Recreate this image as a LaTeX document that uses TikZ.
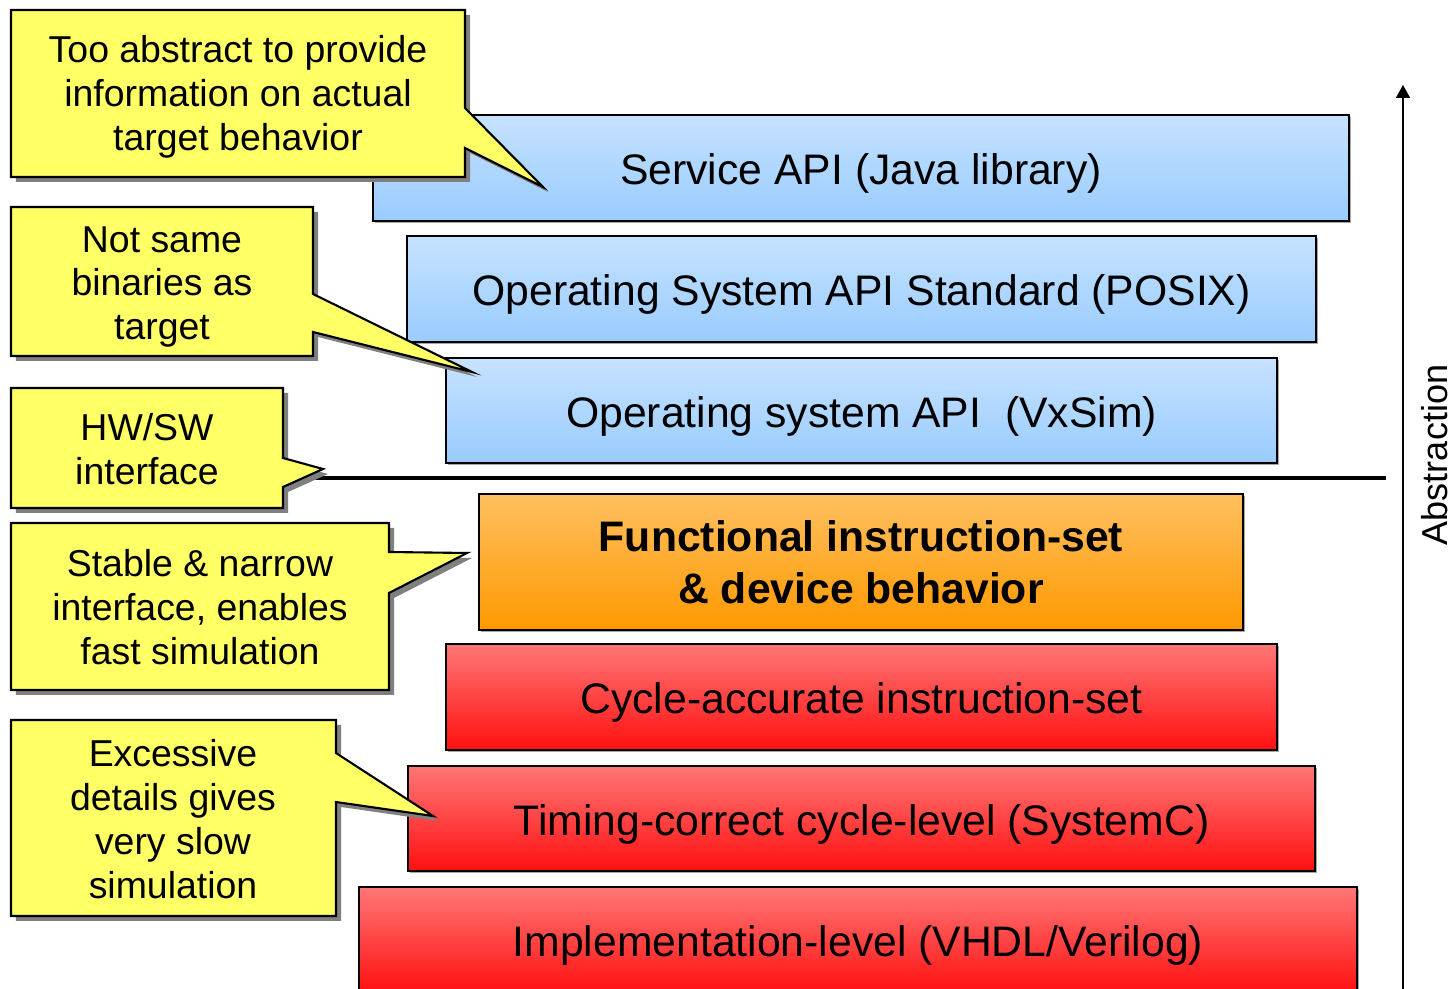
\documentclass[tikz,border=0pt]{standalone}
\usepackage{fontspec}
\setmainfont{Liberation Sans}
\usetikzlibrary{arrows.meta, shadows}

\definecolor{blueTop}{HTML}{C6E2FF}
\definecolor{blueBot}{HTML}{99CCFF}
\definecolor{orangeTop}{HTML}{FFC060}
\definecolor{orangeBot}{HTML}{FF9900}
\definecolor{redTop}{HTML}{FF7777}
\definecolor{redBot}{HTML}{FF1010}
\definecolor{noteYellow}{HTML}{FFFF66}

\tikzset{
  layer/.style={draw, line width=1pt, minimum height=2.12cm, inner sep=0pt,
    font=\fontsize{24.3}{28}\selectfont,
    drop shadow={shadow xshift=0.04cm, shadow yshift=-0.04cm, fill=black!35, opacity=1}},
  oneline/.style={text height=22pt, text depth=3pt},
  swlayer/.style={layer, oneline, top color=blueTop, bottom color=blueBot},
  fnlayer/.style={layer, top color=orangeTop, bottom color=orangeBot, align=center,
    font=\fontsize{24.3}{29.5}\selectfont\bfseries},
  hwlayer/.style={layer, oneline, top color=redTop, bottom color=redBot},
  note/.style={draw, line width=1.2pt, fill=noteYellow, line join=miter,
    drop shadow={shadow xshift=0.1cm, shadow yshift=-0.1cm, fill=black!50, opacity=1}},
  notetext/.style={align=center, inner sep=0pt, font=\fontsize{21.3}{25}\selectfont}
}

\begin{document}
\begin{tikzpicture}[x=0.02cm, y=-0.02cm, line cap=butt]
  \useasboundingbox (0,0) rectangle (1455,989);

  % abstraction layers, top to bottom
  \node[swlayer, minimum width=19.52cm] (svc) at (861,168) {Service API (Java library)};
  \node[swlayer, minimum width=18.18cm] (posix) at (861.5,289) {Operating System API Standard (POSIX)};
  \node[swlayer, minimum width=16.62cm, minimum height=2.1cm] (vxsim) at (861.5,410.5) {Operating system API~ (VxSim)};
  \node[fnlayer, minimum width=15.28cm, minimum height=2.72cm] (func) at (861,562) {Functional instruction-set\\\& device behavior};
  \node[hwlayer, minimum width=16.62cm] (cycle) at (861.5,697) {Cycle-accurate instruction-set};
  \node[hwlayer, minimum width=18.14cm, minimum height=2.1cm] (timing) at (861.5,818.5) {Timing-correct cycle-level (SystemC)};
  \node[hwlayer, minimum width=19.96cm] (impl) at (858,940) {Implementation-level (VHDL/Verilog)};

  % hw/sw boundary
  \coordinate (bndl) at (313,478);
  \coordinate (bndr) at (1386,478);
  \draw[line width=2.8pt] (bndl) -- (bndr);

  % abstraction axis
  \coordinate (abot) at (1403,995);
  \coordinate (atop) at (1403,85);
  \draw[-{Triangle[width=0.28cm, length=0.26cm]}, line width=1pt] (abot) -- (atop);
  \node[rotate=90, font=\fontsize{20.5}{24}\selectfont] (abstr) at (1435,455) {Abstraction};

  % callouts
  \draw[note] (11,10) -- (465,10) -- (465,108) -- (543,187) -- (465,148) -- (465,177) -- (11,177) -- cycle;
  \node[notetext] (ntoo) at (238,97) {Too abstract to provide\\information on actual\\target behavior};

  \draw[note] (11,207) -- (313,207) -- (313,294) -- (472,372) -- (313,332) -- (313,356) -- (11,356) -- cycle;
  \node[notetext] (nsame) at (162,287) {Not same\\binaries as\\target};

  \draw[note] (11,388) -- (283,388) -- (283,458) -- (323,469) -- (283,487) -- (283,508) -- (11,508) -- cycle;
  \node[notetext] (nhwsw) at (147,449) {HW/SW\\interface};

  \draw[note] (11,523) -- (389,523) -- (389,552) -- (467,553) -- (389,593) -- (389,690) -- (11,690) -- cycle;
  \node[notetext] (nstable) at (200,607) {Stable \& narrow\\interface, enables\\fast simulation};

  \draw[note] (11,720) -- (336,720) -- (336,753) -- (433,816) -- (336,802) -- (336,916) -- (11,916) -- cycle;
  \node[notetext] (nexcess) at (173,819) {Excessive\\details gives\\very slow\\simulation};
\end{tikzpicture}
\end{document}
